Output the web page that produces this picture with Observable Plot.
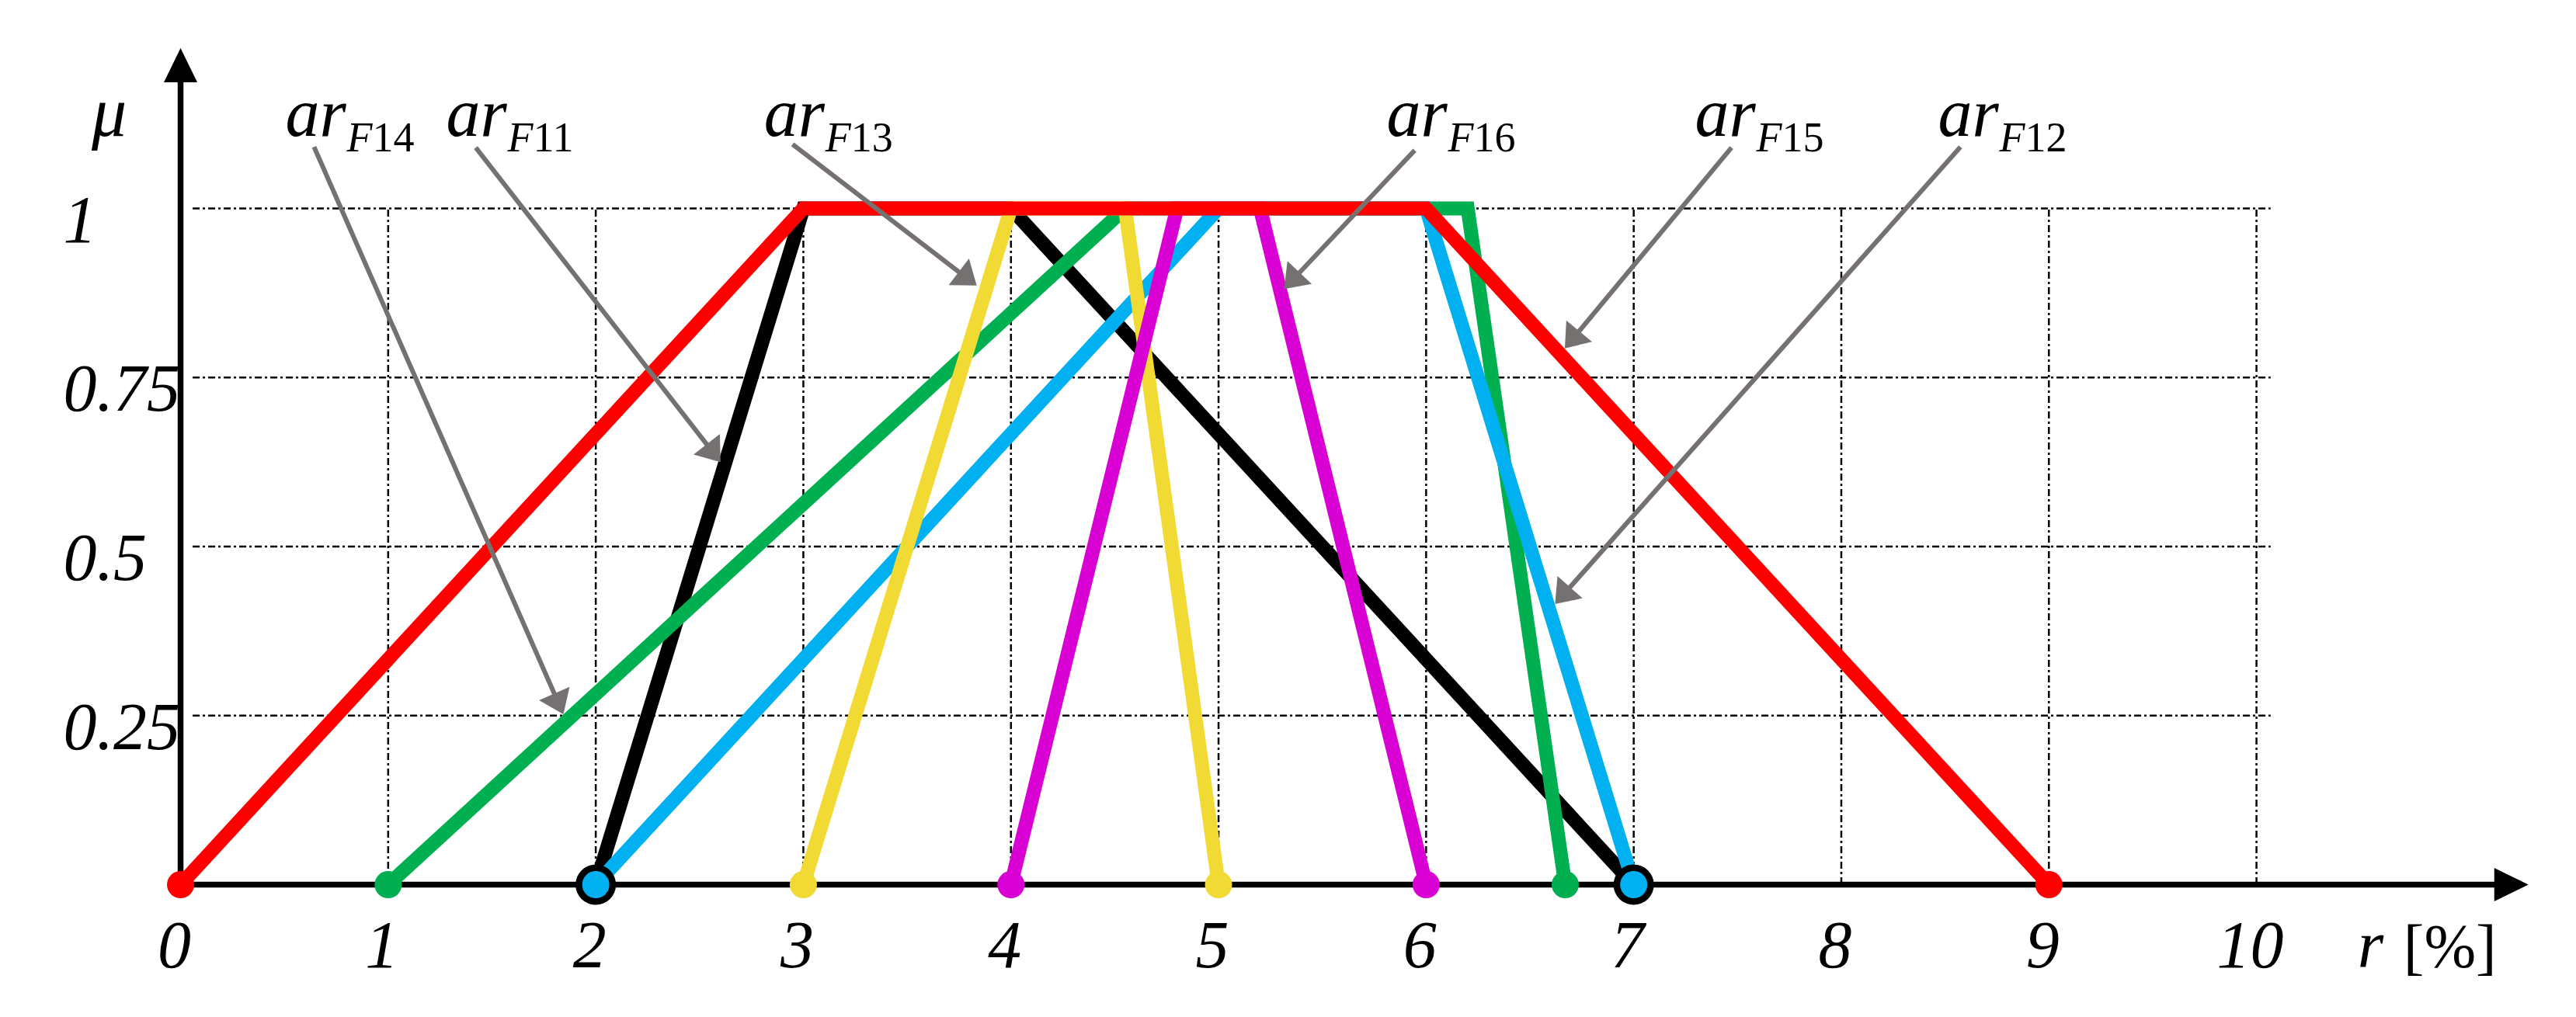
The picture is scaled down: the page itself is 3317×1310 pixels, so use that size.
<!DOCTYPE html>
<html>
<head>
<meta charset="utf-8">
<script src="https://cdn.jsdelivr.net/npm/d3@7"></script>
<script src="https://cdn.jsdelivr.net/npm/@observablehq/plot@0.6"></script>
<style>
  html, body { margin: 0; padding: 0; background: #fff; overflow: hidden; }
  #chart svg { display: block; }
</style>
</head>
<body>
<div id="chart"></div>
<script>
// ---------------- data ----------------
const seriesNames = ["arF11", "arF12", "arF13", "arF14", "arF15", "arF16"];
const muValues = [0, 1, 1, 0];                 // membership at the 4 trapezoid vertices
const xF11 = [2, 3, 4, 7];                     // black
const xF12 = [2, 5, 6, 7];                     // blue
const xF13 = [3, 4, 4.55, 5];                  // yellow
const xF14 = [1, 4.55, 6.2, 6.67];             // green
const xF15 = [0, 3, 6, 9];                     // red
const xF16 = [4, 4.8, 5.2, 6];                 // magenta

const xTicks = [0, 1, 2, 3, 4, 5, 6, 7, 8, 9, 10];
const xTickLabels = ["0", "1", "2", "3", "4", "5", "6", "7", "8", "9", "10"];
const yTicks = [0.25, 0.5, 0.75, 1];
const yTickLabels = ["0.25", "0.5", "0.75", "1"];
const xGrid = [1, 2, 3, 4, 5, 6, 7, 8, 9, 10];

// annotation labels (ar_Fxx) and their pointer arrows, in data units
const annSubs = ["F14", "F11", "F13", "F16", "F15", "F12"];
const annLabelX = [0.505, 1.279, 2.81, 5.81, 7.295, 8.466];
const annLabelY = 1.107;
const annTailX = [0.643, 1.422, 2.948, 5.945, 7.471, 8.574];
const annTailY = [1.091, 1.090, 1.095, 1.086, 1.090, 1.091];
const annTipX = [1.844, 2.601, 3.835, 5.316, 6.668, 6.621];
const annTipY = [0.252, 0.625, 0.886, 0.881, 0.793, 0.415];

const xAxisEnd = 11.31;
const yAxisEnd = 1.237;
const gridXStart = 0.06, gridXEnd = 10.07;

// ---------------- styles / layout ----------------
const seriesColors = ["#000000", "#00B0F0", "#F2DA34", "#00B050", "#FF0000", "#D900D4"];
const drawOrder = ["arF11", "arF14", "arF12", "arF13", "arF16", "arF15"];
const W = 3317, H = 1310;
const xDomain = [-0.868, 11.541];
const yDomain = [-0.1963, 1.3077];
const gray = "#767171";
const font = "'Liberation Serif', 'Times New Roman', serif";

const seriesX = {arF11: xF11, arF12: xF12, arF13: xF13, arF14: xF14, arF15: xF15, arF16: xF16};
const rows = [];
for (const s of drawOrder) seriesX[s].forEach((x, i) => rows.push({series: s, x, mu: muValues[i]}));
const zeroRows = rows.filter(d => d.mu === 0);

// pixel helpers via Plot's own scales
const sx = Plot.scale({x: {domain: xDomain, range: [0, W]}});
const sy = Plot.scale({y: {domain: yDomain, range: [H, 0]}});

function head(w, l) {
  return {draw(ctx) { ctx.moveTo(0, 0); ctx.lineTo(w / 2, l); ctx.lineTo(-w / 2, l); ctx.closePath(); }};
}

const ann = annSubs.map((s, i) => {
  const tx = sx.apply(annTailX[i]), ty = sy.apply(annTailY[i]);
  const hx = sx.apply(annTipX[i]), hy = sy.apply(annTipY[i]);
  const len = Math.hypot(hx - tx, hy - ty);
  const ux = (hx - tx) / len, uy = (hy - ty) / len;
  return {
    x1: annTailX[i], y1: annTailY[i],
    x2: sx.invert(hx - ux * 14), y2: sy.invert(hy - uy * 14),
    tipX: annTipX[i], tipY: annTipY[i],
    angle: Math.atan2(ux, -uy) * 180 / Math.PI
  };
});

const xShaftEnd = sx.invert(sx.apply(xAxisEnd) - 20);
const yShaftEnd = sy.invert(sy.apply(yAxisEnd) + 20);

const grid = {stroke: "black", strokeWidth: 2.5, strokeDasharray: "9,4,3,4"};

const chart = Plot.plot({
  width: W, height: H, margin: 0,
  x: {domain: xDomain, axis: null},
  y: {domain: yDomain, axis: null},
  color: {domain: seriesNames, range: seriesColors},
  style: {background: "white", fontFamily: font, overflow: "visible"},
  marks: [
    // grid
    Plot.ruleX(xGrid, {x: d => d, y1: 0, y2: 1, ...grid}),
    Plot.ruleY(yTicks, {y: d => d, x1: gridXStart, x2: gridXEnd, ...grid}),
    // axes
    Plot.ruleY([0], {x1: 0, x2: xShaftEnd, stroke: "black", strokeWidth: 7.5}),
    Plot.ruleX([0], {y1: 0, y2: yShaftEnd, stroke: "black", strokeWidth: 7.5}),
    Plot.dot([{x: xAxisEnd, y: 0, a: 90}, {x: 0, y: yAxisEnd, a: 0}],
      {x: "x", y: "y", rotate: "a", symbol: head(43, 44), r: 10, fill: "black", stroke: "none"}),
    // membership functions
    ...drawOrder.map(s => Plot.line(rows.filter(d => d.series === s),
      {x: "x", y: "mu", stroke: "series", strokeWidth: 18, strokeLinejoin: "miter", strokeMiterlimit: 6, strokeLinecap: "butt"})),
    Plot.dot(zeroRows.filter(d => d.series === "arF11"), {x: "x", y: "mu", r: 26, fill: "series", stroke: "none"}),
    Plot.dot(zeroRows.filter(d => d.series !== "arF11"), {x: "x", y: "mu", r: 17.5, fill: "series", stroke: "none"}),
    // tick labels
    Plot.text(xTickLabels, {x: (d, i) => xTicks[i], y: 0, text: d => d, dx: -8, dy: 106, lineAnchor: "bottom",
      textAnchor: "middle", fontSize: 86, fontStyle: "italic", fill: "black"}),
    Plot.text(yTickLabels, {x: 0, y: (d, i) => yTicks[i], text: d => d, dx: -151, dy: 43, lineAnchor: "bottom",
      textAnchor: "start", fontSize: 86, fontStyle: "italic", fill: "black"}),
    Plot.text(["μ"], {x: 0, y: annLabelY, text: d => d, dx: -92, lineAnchor: "bottom", textAnchor: "middle",
      fontSize: 90, fontStyle: "italic", fill: "black"}),
    Plot.text(["r"], {x: xAxisEnd, y: 0, text: d => d, dx: -220, dy: 106, lineAnchor: "bottom", textAnchor: "start",
      fontSize: 86, fontStyle: "italic", fill: "black"}),
    Plot.text(["[%]"], {x: xAxisEnd, y: 0, text: d => d, dx: -161, dy: 106, lineAnchor: "bottom", textAnchor: "start",
      fontSize: 80, fill: "black"}),
    // annotation arrows
    Plot.link(ann, {x1: "x1", y1: "y1", x2: "x2", y2: "y2", stroke: gray, strokeWidth: 6}),
    Plot.dot(ann, {x: "tipX", y: "tipY", rotate: "angle", symbol: head(43, 29), r: 10, fill: gray, stroke: "none"}),
    // annotation labels
    Plot.text(annSubs, {x: (d, i) => annLabelX[i], y: annLabelY, text: () => "ar", lineAnchor: "bottom",
      textAnchor: "start", fontSize: 88, fontStyle: "italic", fill: "black"}),
    Plot.text(annSubs, {x: (d, i) => annLabelX[i], y: annLabelY, text: d => d, dx: 79, dy: 20, lineAnchor: "bottom",
      textAnchor: "start", fontSize: 54, fill: "black"})
  ]
});

// subscript: italic "F", upright digits
d3.select(chart).selectAll("text").each(function () {
  const t = this.textContent;
  if (/^F\d+$/.test(t)) {
    const sel = d3.select(this);
    sel.text("");
    sel.append("tspan").attr("font-style", "italic").text("F");
    sel.append("tspan").attr("font-style", "normal").text(t.slice(1));
  }
});

document.getElementById("chart").appendChild(chart);
</script>
</body>
</html>
